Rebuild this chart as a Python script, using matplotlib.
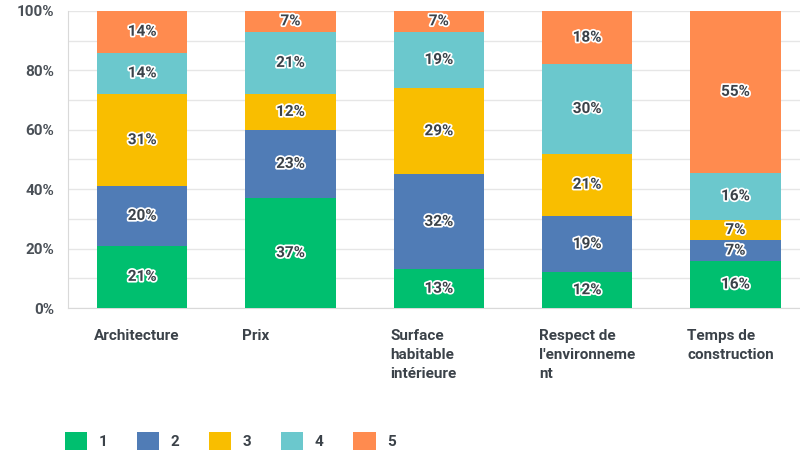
import numpy as np
import matplotlib
matplotlib.use('Agg')
import matplotlib.pyplot as plt
import matplotlib.patheffects as pe
from matplotlib.patches import Patch

# ── data ──────────────────────────────────────────────
categories = ["Architecture", "Prix", "Surface\nhabitable\nintérieure",
              "Respect de\nl'environneme\nnt", "Temps de\nconstruction"]
series_names = ["1", "2", "3", "4", "5"]
r1 = [21, 37, 13, 12, 16]
r2 = [20, 23, 32, 19, 7]
r3 = [31, 12, 29, 21, 7]
r4 = [14, 21, 19, 30, 16]
r5 = [14, 7, 7, 18, 55]
colors = ["#00BF6F", "#507CB6", "#F9BE00", "#6BC8CD", "#FF8B4F"]

values = np.array([r1, r2, r3, r4, r5], dtype=float)
heights = values / values.sum(axis=0) * 100   # bars always fill to 100%

TXT = "#3b4249"
plt.rcParams['font.family'] = ['Roboto', 'DejaVu Sans']

fig = plt.figure(figsize=(8, 4.55), dpi=100)
ax = fig.add_axes([0.085, 0.323, 0.927, 0.653])

x = np.arange(len(categories))
bottom = np.zeros(len(categories))
for i, name in enumerate(series_names):
    ax.bar(x, heights[i], 0.608, bottom=bottom, color=colors[i], zorder=3)
    for j in range(len(categories)):
        ax.text(x[j], bottom[j] + heights[i][j] / 2, f"{int(values[i][j])}%",
                ha="center", va="center", fontsize=11, fontweight="bold",
                color=TXT, zorder=4,
                path_effects=[pe.withStroke(linewidth=2.5, foreground="white")])
    bottom += heights[i]

ax.set_xlim(-0.5, 4.5)
ax.set_ylim(0, 100)
ax.set_yticks(np.arange(0, 101, 20))
ax.set_yticklabels([f"{v}%" for v in range(0, 101, 20)])
ax.set_yticks(np.arange(0, 101, 10), minor=True)
ax.grid(True, axis="y", which="both", color="#e6e6e6", linewidth=1, zorder=0)
ax.tick_params(axis="y", length=0, pad=10, labelsize=11, labelcolor="#4a5057")
ax.tick_params(axis="y", which="minor", length=0)
ax.set_xticks([])
for s in ["top", "right"]:
    ax.spines[s].set_visible(False)
ax.spines["left"].set_color("#d9d9d9")
ax.spines["bottom"].set_color("#d9d9d9")
for lab in ax.get_yticklabels():
    lab.set_fontweight("bold")

# category labels, left aligned to the bar edge
for j, cat in enumerate(categories):
    ax.text(x[j] - 0.304 - 0.02, -7, cat, ha="left", va="top", fontsize=11,
            fontweight="bold", color=TXT, linespacing=1.45,
            transform=ax.transData, clip_on=False)

handles = [Patch(facecolor=c, edgecolor="none") for c in colors]
fig.legend(handles, series_names, loc="lower left", bbox_to_anchor=(0.064, -0.02),
           ncol=5, frameon=False, handlelength=1.45, handleheight=1.45,
           columnspacing=1.95, handletextpad=0.75, labelcolor=TXT,
           prop={"weight": "bold", "size": 11})

fig.savefig("out.png", dpi=100)
